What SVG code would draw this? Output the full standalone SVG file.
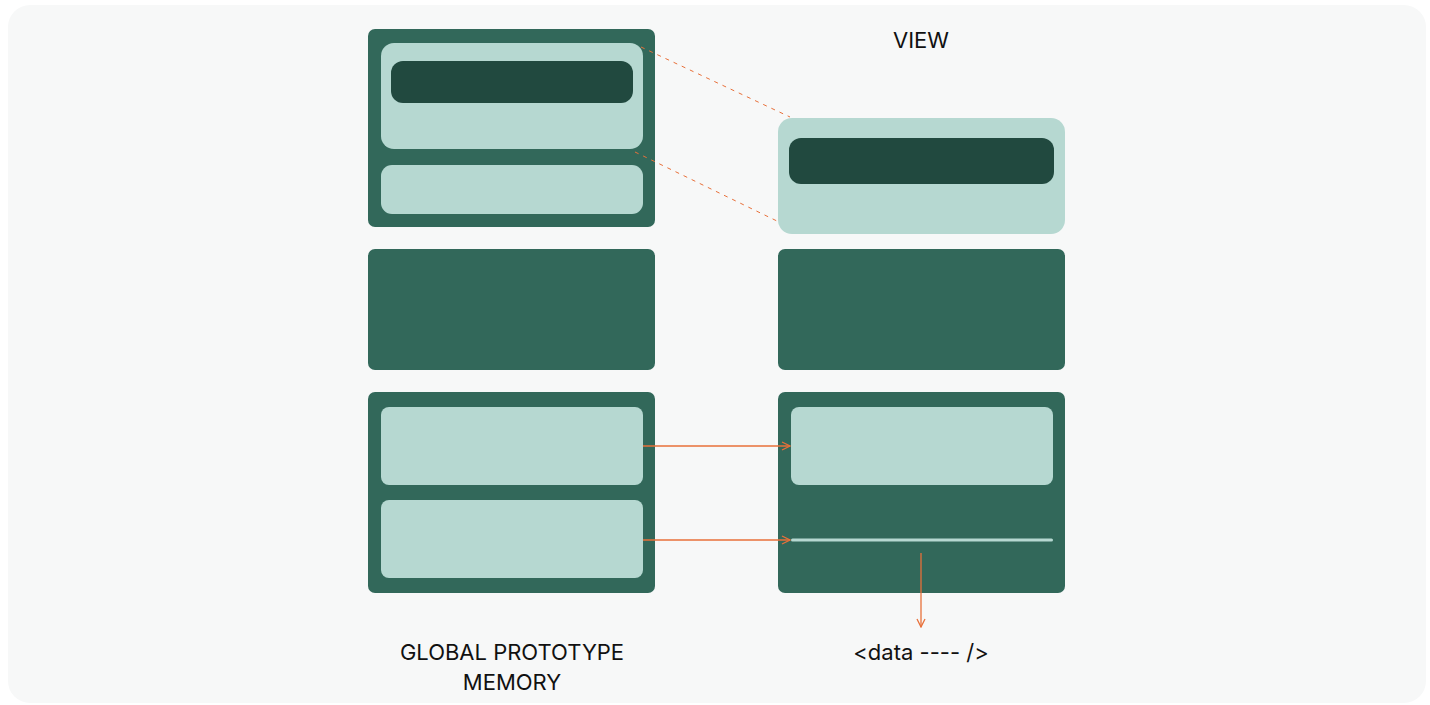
<svg xmlns="http://www.w3.org/2000/svg" width="1430" height="705" viewBox="0 0 1430 705">
<defs>
<style>
.outer{fill:#32685a}
.light{fill:#b6d8d1}
.dark{fill:#21493f}
.lbl{font-family:Inter,"Liberation Sans",sans-serif;font-size:22px;fill:#111;text-anchor:middle}
.dash{stroke:#e8703a;stroke-width:1;stroke-dasharray:4 5;fill:none}
.arr{stroke:#e8703a;stroke-width:1.3;fill:none}
</style>
<marker id="ah" viewBox="0 0 10 10" refX="9" refY="5" markerWidth="10" markerHeight="10" markerUnits="userSpaceOnUse" orient="auto">
<path d="M1 1 L9 5 L1 9" fill="none" stroke="#e8703a" stroke-width="1.3"/>
</marker>
</defs>
<rect x="0" y="0" width="1430" height="705" fill="#ffffff"/>
<rect x="8" y="5" width="1418" height="698" rx="22" fill="#f7f8f8"/>

<g id="gpm-top">
<rect class="outer" x="368" y="29" width="287" height="198" rx="7"/>
<rect class="light" x="381" y="43" width="262" height="106" rx="13"/>
<rect class="dark" x="391" y="61" width="242" height="42" rx="12"/>
<rect class="light" x="381" y="165" width="262" height="49" rx="11"/>
</g>
<g id="gpm-mid">
<rect class="outer" x="368" y="249" width="287" height="121" rx="7"/>
</g>
<g id="gpm-bottom">
<rect class="outer" x="368" y="392" width="287" height="201" rx="7"/>
<rect class="light" x="381" y="407" width="262" height="78" rx="8"/>
<rect class="light" x="381" y="500" width="262" height="78" rx="8"/>
</g>

<g id="view-top">
<rect class="light" x="778" y="118" width="287" height="116" rx="14"/>
<rect class="dark" x="789" y="138" width="265" height="46" rx="12"/>
</g>
<g id="view-mid">
<rect class="outer" x="778" y="249" width="287" height="121" rx="7"/>
</g>
<g id="view-bottom">
<rect class="outer" x="778" y="392" width="287" height="201" rx="7"/>
<rect class="light" x="791" y="407" width="262" height="78" rx="8"/>
<rect class="light" x="791" y="538.5" width="262" height="3" rx="1.5"/>
</g>

<g id="connectors">
<line class="dash" x1="641" y1="47" x2="790" y2="117"/>
<line class="dash" x1="635" y1="152" x2="779" y2="222"/>
<line class="arr" x1="643" y1="446" x2="790" y2="446" marker-end="url(#ah)"/>
<line class="arr" x1="643" y1="540" x2="790" y2="540" marker-end="url(#ah)"/>
<line class="arr" x1="921" y1="553" x2="921" y2="627" marker-end="url(#ah)"/>
</g>

<g id="labels">
<text class="lbl" x="921" y="48">VIEW</text>
<text class="lbl" x="512" y="660">GLOBAL PROTOTYPE</text>
<text class="lbl" x="512" y="690">MEMORY</text>
<text class="lbl" x="921" y="660">&lt;data ---- /&gt;</text>
</g>
</svg>
